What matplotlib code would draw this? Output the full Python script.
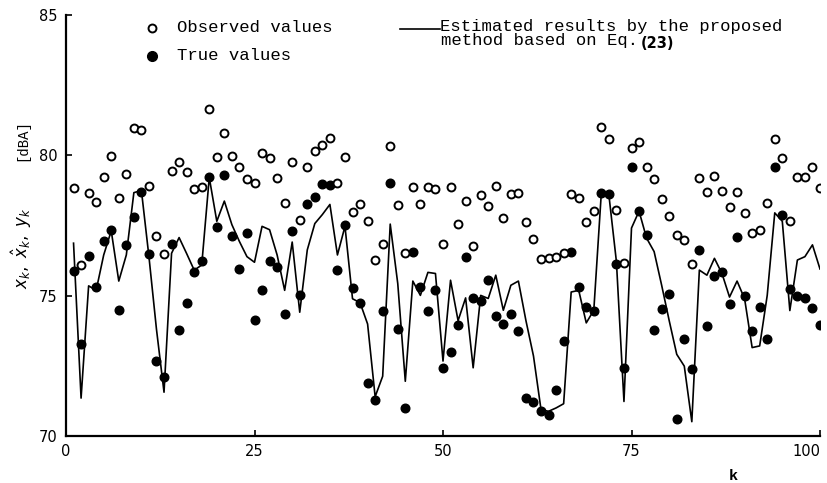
import matplotlib
matplotlib.use("Agg")
import matplotlib.pyplot as plt
import numpy as np

k = list(range(1, 101))

observed = [78.85, 76.09, 78.65, 78.35, 79.23, 79.99, 78.49, 79.33, 80.98, 80.91,
            78.91, 77.13, 76.49, 79.45, 79.75, 79.42, 78.79, 78.88, 81.64, 79.95,
            80.79, 79.99, 79.60, 79.15, 79.03, 80.08, 79.89, 79.21, 78.31, 79.75,
            77.71, 79.57, 80.17, 80.38, 80.61, 79.03, 79.95, 77.99, 78.25, 77.65,
            76.27, 76.83, 80.35, 78.24, 76.51, 78.87, 78.25, 78.88, 78.81, 76.83,
            78.87, 77.57, 78.37, 76.77, 78.59, 78.19, 78.91, 77.77, 78.63, 78.66,
            77.63, 77.01, 76.29, 76.35, 76.39, 76.51, 78.63, 78.49, 77.63, 78.01,
            81.01, 80.59, 78.07, 76.15, 80.27, 80.49, 79.59, 79.17, 78.46, 77.83,
            77.17, 76.99, 76.13, 79.21, 78.71, 79.27, 78.73, 78.17, 78.71, 77.96,
            77.23, 77.35, 78.30, 80.59, 79.90, 77.65, 79.24, 79.24, 79.57, 78.82]

true_vals = [75.89, 73.27, 76.43, 75.31, 76.93, 77.34, 74.48, 76.79, 77.79, 78.69,
             76.49, 72.66, 72.11, 76.83, 73.77, 74.75, 75.83, 76.23, 79.24, 77.43,
             79.29, 77.11, 75.95, 77.23, 74.15, 75.19, 76.23, 76.03, 74.35, 77.29,
             75.01, 78.25, 78.51, 78.99, 78.95, 75.91, 77.51, 75.29, 74.75, 71.89,
             71.27, 74.47, 79.00, 73.81, 71.00, 76.55, 75.31, 74.47, 75.19, 72.43,
             73.01, 73.96, 76.39, 74.92, 74.80, 75.55, 74.27, 73.99, 74.35, 73.75,
             71.35, 71.21, 70.88, 70.76, 71.65, 73.39, 76.55, 75.30, 74.59, 74.45,
             78.65, 78.61, 76.13, 72.43, 79.59, 78.01, 77.17, 73.79, 74.51, 75.05,
             70.61, 73.45, 72.37, 76.61, 73.91, 75.71, 75.83, 74.71, 77.09, 74.99,
             73.75, 74.59, 73.45, 79.59, 77.87, 75.25, 74.99, 74.93, 74.57, 73.97]

estimated = [76.87, 71.35, 75.35, 75.19, 76.45, 77.31, 75.52, 76.45, 78.67, 78.75,
             76.39, 73.80, 71.56, 76.51, 77.07, 76.50, 75.91, 76.09, 79.21, 77.65,
             78.37, 77.53, 76.93, 76.39, 76.19, 77.47, 77.35, 76.45, 75.19, 76.91,
             74.41, 76.63, 77.57, 77.89, 78.25, 76.45, 77.47, 74.89, 74.75, 73.99,
             71.40, 72.13, 77.55, 75.43, 71.95, 75.52, 75.01, 75.83, 75.79, 72.67,
             75.55, 74.11, 74.92, 72.43, 75.01, 74.90, 75.73, 74.48, 75.37, 75.52,
             74.11, 72.85, 70.94, 70.88, 71.00, 71.15, 75.13, 75.19, 74.03, 74.48,
             78.67, 78.59, 76.21, 71.23, 77.41, 78.01, 77.05, 76.57, 75.37, 74.11,
             72.91, 72.49, 70.51, 75.91, 75.73, 76.33, 75.79, 74.95, 75.52, 74.89,
             73.15, 73.21, 75.01, 77.95, 77.65, 74.47, 76.27, 76.39, 76.81, 75.95]

x_ticks = [0, 25, 50, 75, 100]
y_ticks = [70, 75, 80, 85]

mono = "Liberation Mono"

fig = plt.figure(figsize=(8.28, 4.83), dpi=100)
ax = fig.add_axes([66/828, 1 - 436/483, (820 - 66)/828, (436 - 15)/483])

ax.plot(k, estimated, color="black", lw=1.2, zorder=2)
ax.plot(k, true_vals, "o", ms=6.2, color="black", zorder=3)
ax.plot(k, observed, "o", ms=5.7, mfc="white", mec="black", mew=1.4, zorder=3)

ax.set_xlim(0, 100)
ax.set_ylim(70, 85)
ax.set_xticks(x_ticks)
ax.set_yticks(y_ticks)
ax.set_xticklabels([str(v) for v in x_ticks], fontsize=10.5, family="DejaVu Sans")
ax.set_yticklabels([str(v) for v in y_ticks], fontsize=10.5, family="DejaVu Sans")
ax.get_xticklabels()[-1].set_horizontalalignment("right")
ax.get_xticklabels()[-1].set_x(100)
ax.tick_params(direction="in", length=4, width=1.2, pad=6)
for s in ["top", "right"]:
    ax.spines[s].set_visible(False)
for s in ["left", "bottom"]:
    ax.spines[s].set_linewidth(1.6)

# axis labels
fig.text(22/828, 1 - 140/483, "[dBA]", rotation=90, ha="center", va="center",
         fontsize=10, family=mono)
fig.text(22/828, 1 - 248/483, r"$x_k,\ \hat{x}_k,\ y_k$", rotation=90,
         ha="center", va="center", fontsize=12)
fig.text(733/828, 1 - 476/483, "k", ha="center", va="center", fontsize=11,
         family=mono, weight="bold")

# legend (hand placed)
ax.plot([152/828], [1 - 28/483], "o", ms=5.7, mfc="white", mec="black", mew=1.4,
        transform=fig.transFigure, clip_on=False)
ax.plot([152/828], [1 - 56/483], "o", ms=7.0, color="black",
        transform=fig.transFigure, clip_on=False)
fig.text(177/828, 1 - 28/483, "Observed values", ha="left", va="center",
         fontsize=12.4, family=mono)
fig.text(177/828, 1 - 56/483, "True values", ha="left", va="center",
         fontsize=12.4, family=mono)
ax.plot([400/828, 440/828], [1 - 29/483, 1 - 29/483], color="black", lw=1.2,
        transform=fig.transFigure, clip_on=False)
fig.text(440/828, 1 - 26/483, "Estimated results by the proposed", ha="left",
         va="center", fontsize=12.4, family=mono)
fig.text(441/828, 1 - 41/483, "method based on Eq.", ha="left", va="center",
         fontsize=12.4, family=mono)
fig.text(641/828, 1 - 43/483, "(23)", ha="left", va="center",
         fontsize=10.5, family="DejaVu Sans", weight="bold")

fig.savefig("out.png", dpi=100)
